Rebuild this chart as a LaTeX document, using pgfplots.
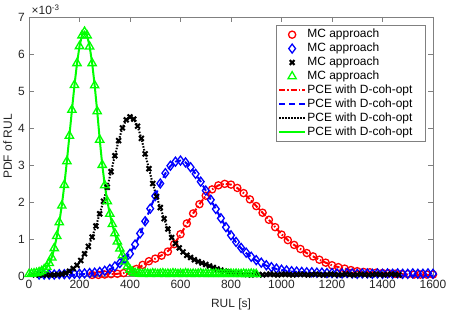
\documentclass[border=0pt]{standalone}
\usepackage{fontspec}
\setmainfont{Liberation Sans}
\usepackage{pgfplots}
\usepackage{pgfplotstable}
\pgfplotsset{compat=1.18}

\pgfplotstableread{
x mc pce
0 0.05 0.03
10 0.06 0.04
20 0.07 0.05
30 0.08 0.06
40 0.10 0.08
50 0.13 0.11
60 0.18 0.16
70 0.25 0.23
80 0.35 0.34
90 0.50 0.50
100 0.75 0.74
110 1.08 1.06
120 1.45 1.45
130 1.90 1.91
140 2.46 2.46
150 3.10 3.10
160 3.79 3.79
170 4.49 4.48
180 5.16 5.15
190 5.75 5.74
200 6.21 6.21
210 6.50 6.51
220 6.60 6.60
230 6.50 6.50
240 6.20 6.21
250 5.75 5.76
260 5.15 5.16
270 4.45 4.46
280 3.68 3.70
290 3.00 3.01
300 2.45 2.46
310 2.02 2.03
320 1.68 1.68
330 1.40 1.39
340 1.15 1.14
350 0.93 0.92
360 0.74 0.73
370 0.56 0.55
380 0.39 0.39
390 0.26 0.26
400 0.17 0.17
410 0.11 0.11
420 0.08 0.07
430 0.07 0.05
440 0.06 0.04
450 0.05 0.03
460 0.07 0.03
470 0.06 0.03
480 0.05 0.03
490 0.07 0.03
500 0.06 0.03
510 0.05 0.03
520 0.06 0.03
530 0.07 0.03
540 0.05 0.03
550 0.06 0.03
560 0.05 0.03
570 0.07 0.03
580 0.06 0.03
590 0.05 0.03
600 0.06 0.02
610 0.05 0.02
620 0.07 0.02
630 0.06 0.02
640 0.05 0.02
650 0.06 0.02
660 0.05 0.02
670 0.06 0.02
680 0.07 0.02
690 0.05 0.02
700 0.06 0.02
710 0.05 0.02
720 0.06 0.02
730 0.05 0.02
740 0.07 0.02
750 0.05 0.02
760 0.06 0.01
770 0.05 0.01
780 0.06 0.01
790 0.05 0.01
800 0.06 0.01
810 0.05 0.01
820 0.06 0.01
830 0.05 0.01
840 0.05 0.01
850 0.06 0.01
860 0.05 0.01
870 0.05 0.01
880 0.06 0.01
890 0.05 0.01
900 0.05 0.01
}\greentab

\pgfplotstableread{
x mc pce
25 0.03 0.01
40 0.03 0.01
55 0.03 0.01
70 0.03 0.01
85 0.03 0.02
100 0.03 0.02
115 0.04 0.03
130 0.05 0.04
145 0.08 0.07
160 0.13 0.12
175 0.20 0.19
190 0.29 0.29
205 0.42 0.42
220 0.60 0.60
235 0.80 0.80
250 1.05 1.05
265 1.35 1.35
280 1.68 1.68
295 2.02 2.02
310 2.40 2.40
325 2.82 2.82
340 3.25 3.25
355 3.66 3.66
370 4.00 4.00
385 4.22 4.22
400 4.30 4.30
415 4.24 4.24
430 4.05 4.05
445 3.72 3.72
460 3.30 3.30
475 2.90 2.90
490 2.50 2.50
505 2.15 2.15
520 1.85 1.85
535 1.55 1.55
550 1.27 1.27
565 1.04 1.05
580 0.88 0.88
595 0.76 0.75
610 0.65 0.65
625 0.56 0.56
640 0.50 0.49
655 0.44 0.43
670 0.39 0.38
685 0.35 0.34
700 0.31 0.30
715 0.27 0.26
730 0.23 0.22
745 0.19 0.19
760 0.16 0.16
775 0.13 0.13
790 0.11 0.11
805 0.09 0.09
820 0.07 0.07
835 0.06 0.06
850 0.05 0.05
865 0.04 0.04
880 0.03 0.04
895 0.05 0.03
910 0.04 0.03
925 0.03 0.03
940 0.04 0.03
955 0.05 0.03
970 0.04 0.03
985 0.03 0.03
1000 0.04 0.03
1015 0.05 0.02
1030 0.04 0.02
1045 0.03 0.02
1060 0.04 0.02
1075 0.05 0.02
1090 0.04 0.02
1105 0.03 0.02
1120 0.04 0.02
1135 0.05 0.02
1150 0.04 0.02
1165 0.03 0.02
1180 0.04 0.02
1195 0.05 0.02
1210 0.04 0.02
1225 0.03 0.02
1240 0.04 0.02
1255 0.05 0.01
1270 0.04 0.01
1285 0.03 0.01
1300 0.04 0.01
1315 0.05 0.01
1330 0.04 0.01
1345 0.03 0.01
1360 0.04 0.01
1375 0.05 0.01
1390 0.04 0.01
1405 0.03 0.01
1420 0.04 0.01
1435 0.05 0.01
1450 0.04 0.01
1465 0.03 0.01
}\blacktab

\pgfplotstableread{
x mc pce
40 0.04 0.01
60 0.04 0.01
80 0.04 0.01
100 0.04 0.02
120 0.05 0.02
140 0.05 0.02
160 0.05 0.03
180 0.06 0.03
200 0.06 0.04
220 0.07 0.05
240 0.08 0.06
260 0.09 0.08
280 0.11 0.10
300 0.14 0.13
320 0.19 0.18
340 0.26 0.25
360 0.35 0.35
380 0.46 0.47
400 0.60 0.62
420 0.85 0.84
440 1.15 1.13
460 1.48 1.47
480 1.82 1.82
500 2.16 2.16
520 2.50 2.49
540 2.78 2.77
560 2.98 2.97
580 3.09 3.09
600 3.12 3.12
620 3.07 3.07
640 2.94 2.94
660 2.76 2.76
680 2.55 2.55
700 2.31 2.31
720 2.06 2.06
740 1.81 1.81
760 1.56 1.56
780 1.32 1.32
800 1.10 1.10
820 0.92 0.91
840 0.76 0.75
860 0.63 0.62
880 0.52 0.51
900 0.43 0.42
920 0.36 0.34
940 0.29 0.28
960 0.24 0.23
980 0.20 0.19
1000 0.17 0.16
1020 0.15 0.14
1040 0.13 0.12
1060 0.12 0.11
1080 0.11 0.10
1100 0.10 0.09
1120 0.10 0.08
1140 0.09 0.08
1160 0.09 0.07
1180 0.08 0.07
1200 0.08 0.06
1220 0.07 0.06
1240 0.07 0.05
1260 0.08 0.05
1280 0.07 0.05
1300 0.06 0.04
1320 0.07 0.04
1340 0.07 0.04
1360 0.06 0.04
1380 0.07 0.03
1400 0.06 0.03
1420 0.07 0.03
1440 0.06 0.03
1460 0.07 0.02
1480 0.06 0.02
1500 0.06 0.02
1520 0.07 0.02
1540 0.06 0.01
1560 0.06 0.01
1580 0.07 0.01
1600 0.06 0.01
}\bluetab

\pgfplotstableread{
x mc pce
250 0.03 0.02
275 0.03 0.03
300 0.04 0.04
325 0.05 0.05
350 0.06 0.06
375 0.08 0.08
400 0.12 0.12
425 0.19 0.19
450 0.30 0.29
475 0.40 0.39
500 0.47 0.47
525 0.55 0.56
550 0.66 0.67
575 0.86 0.86
600 1.13 1.12
625 1.42 1.41
650 1.69 1.69
675 1.94 1.94
700 2.17 2.17
725 2.34 2.34
750 2.45 2.45
775 2.49 2.49
800 2.47 2.47
825 2.38 2.38
850 2.24 2.24
875 2.07 2.07
900 1.89 1.89
925 1.71 1.71
950 1.52 1.52
975 1.32 1.32
1000 1.12 1.13
1025 0.97 0.97
1050 0.84 0.84
1075 0.73 0.73
1100 0.62 0.62
1125 0.53 0.53
1150 0.44 0.44
1175 0.36 0.36
1200 0.29 0.29
1225 0.24 0.24
1250 0.20 0.20
1275 0.16 0.16
1300 0.13 0.13
1325 0.11 0.11
1350 0.10 0.10
1375 0.09 0.09
1400 0.08 0.08
1425 0.07 0.07
1450 0.06 0.06
1475 0.05 0.05
1500 0.05 0.04
1525 0.04 0.04
1550 0.04 0.03
1575 0.04 0.03
1600 0.04 0.03
}\redtab

\begin{document}
\fontsize{12pt}{14.4pt}\selectfont
\begin{tikzpicture}[font=\fontsize{12pt}{14.4pt}\selectfont]
\useasboundingbox (-29bp,-36bp) rectangle (421bp,276bp);
\begin{axis}[
  at={(0,0)}, anchor=south west,
  scale only axis, width=404bp, height=259bp,
  xmin=0, xmax=1600, ymin=0, ymax=7,
  xtick={0,200,...,1600}, ytick={0,1,...,7},
  tick align=inside,
  major tick length=5bp,
  axis line style={black!50, line width=0.7bp},
  tick style={black!50, line width=0.7bp},
  tick label style={text=black!85, font=\fontsize{12pt}{14.4pt}\selectfont},
  label style={font=\fontsize{12pt}{14.4pt}\selectfont},
  /pgf/number format/assume math mode=true,
  /pgf/number format/1000 sep={},
  xlabel={RUL [s]}, ylabel={PDF of RUL},
  xlabel style={at={(axis description cs:0.5,-0.1216)}, anchor=base, text=black!85},
  ylabel style={at={(axis description cs:-0.0532,0.5)}, anchor=center, text=black!85},
  clip=false,
  legend cell align=left,
  legend style={at={(axis description cs:0.980,0.969)}, anchor=north east,
    draw=black!50, fill=white, inner xsep=2bp, inner ysep=2.5bp, row sep=0pt,
    font=\fontsize{12pt}{14.4pt}\selectfont,
    nodes={inner sep=1.3bp, text height=8.8bp, text depth=2.5bp, text=black}},
  legend image code/.code={\draw[mark repeat=2,mark phase=2,#1] plot coordinates {(0bp,0bp) (13bp,0bp) (26bp,0bp)};},
]
\addplot[only marks, red, line width=1.3bp, mark=o, mark size=3.6bp, mark options={solid, line width=1.3bp}]
  table[x=x, y=mc] {\redtab};
\addlegendentry{MC approach}
\addplot[only marks, blue, line width=1.3bp, mark=diamond, mark size=4.5bp, mark options={solid, line width=1.3bp}]
  table[x=x, y=mc] {\bluetab};
\addlegendentry{MC approach}
\addplot[only marks, black, line width=2bp, mark=x, mark size=3.4bp, mark options={solid, line width=2bp}]
  table[x=x, y=mc] {\blacktab};
\addlegendentry{MC approach}
\addplot[only marks, green, line width=1.3bp, mark=triangle, mark size=4.8bp, mark options={solid, line width=1.3bp}]
  table[x=x, y=mc] {\greentab};
\addlegendentry{MC approach}
\addplot[no markers, red, line width=2bp, dash pattern=on 6bp off 2bp on 1.5bp off 2bp]
  table[x=x, y=pce] {\redtab};
\addlegendentry{PCE with D-coh-opt\hspace*{9bp}}
\addplot[no markers, blue, line width=2bp, dash pattern=on 6bp off 4bp]
  table[x=x, y=pce] {\bluetab};
\addlegendentry{PCE with D-coh-opt\hspace*{9bp}}
\addplot[no markers, black, line width=2bp, dash pattern=on 1.5bp off 1.5bp]
  table[x=x, y=pce] {\blacktab};
\addlegendentry{PCE with D-coh-opt\hspace*{9bp}}
\addplot[no markers, green, line width=2bp, solid]
  table[x=x, y=pce] {\greentab};
\addlegendentry{PCE with D-coh-opt\hspace*{9bp}}
\node[anchor=base west, text=black!85, inner sep=0pt, font=\fontsize{12pt}{14.4pt}\selectfont] at (rel axis cs:0,1) [xshift=2.5bp, yshift=2.5bp] {×10\textsuperscript{-3}};
\end{axis}
\end{tikzpicture}
\end{document}
